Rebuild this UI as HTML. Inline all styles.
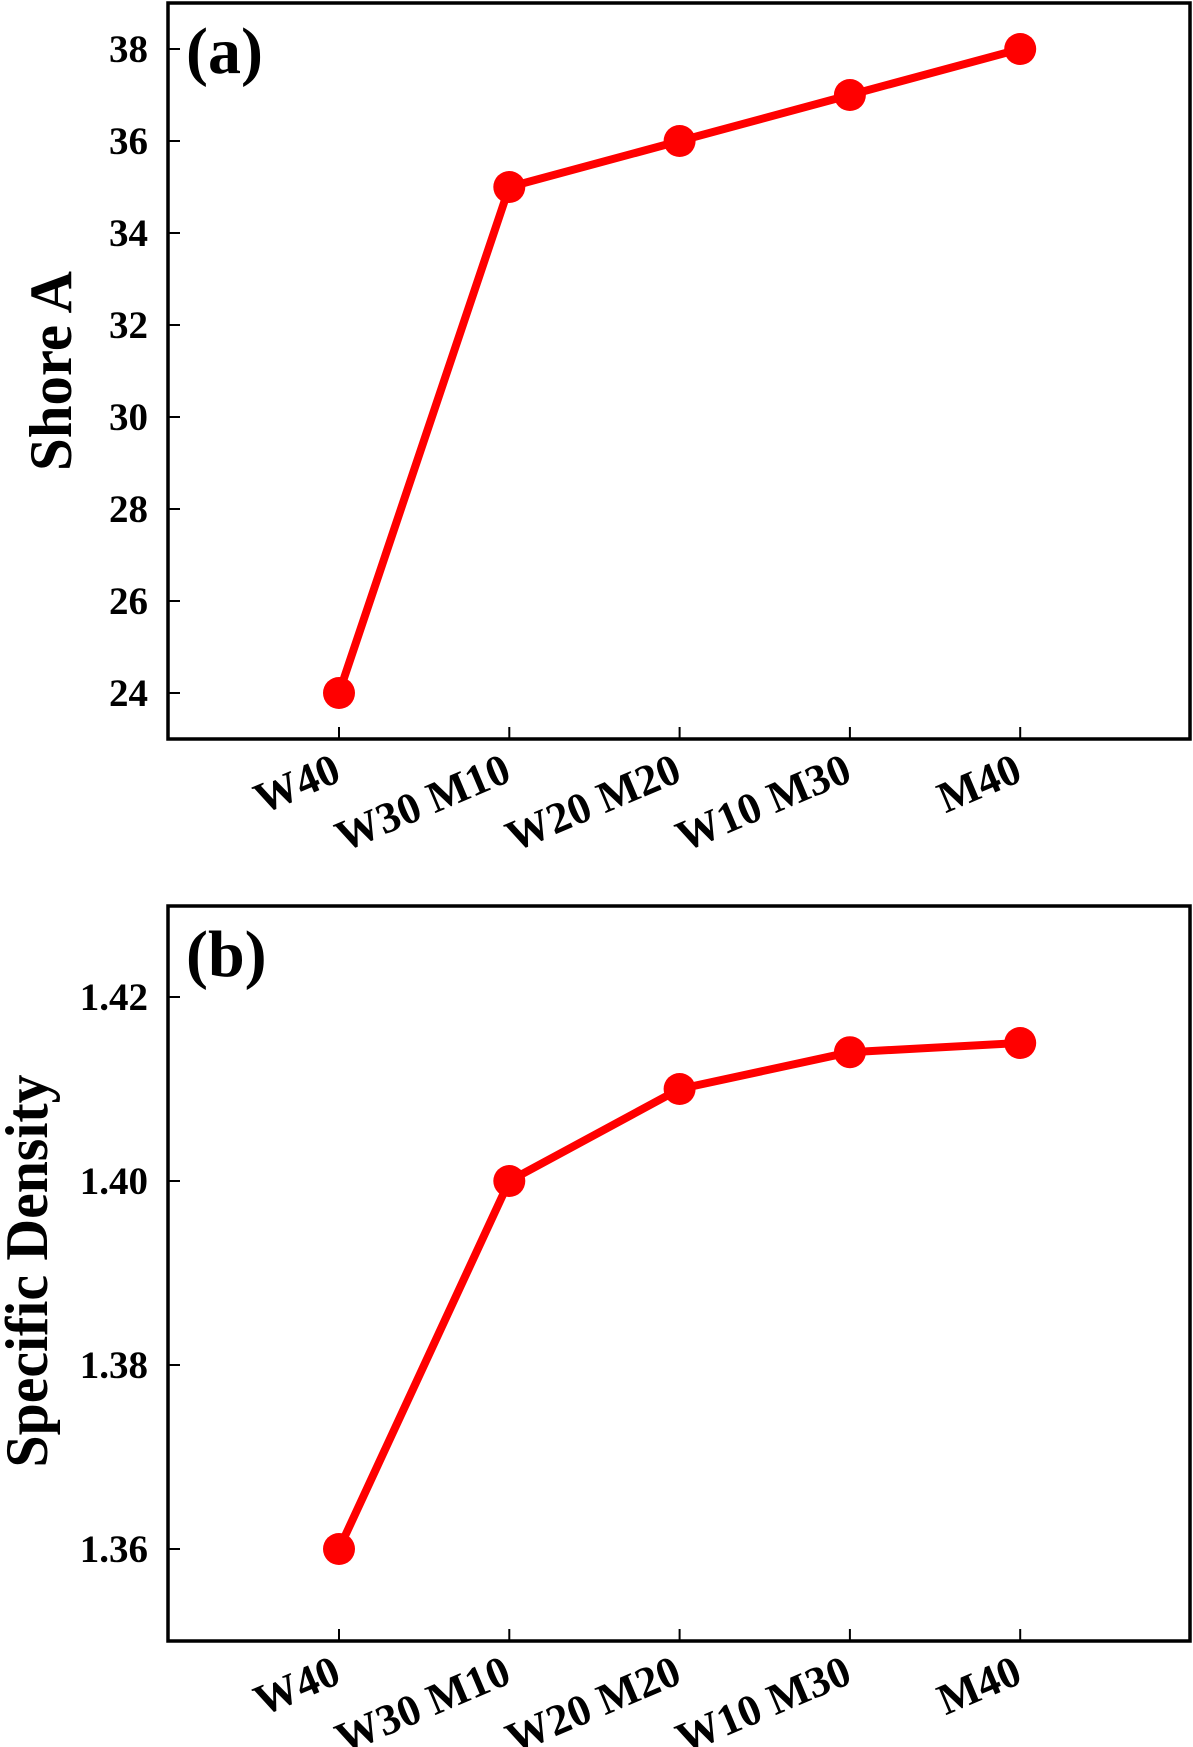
<!DOCTYPE html>
<html><head><meta charset="utf-8"><style>
html,body{margin:0;padding:0;background:#fff;}
svg{display:block;font-family:"Liberation Serif",serif;font-weight:bold;}
</style></head><body>
<svg id="chart" width="1193" height="1747" viewBox="0 0 1193 1747"></svg>
<script>
const categories = ["W40","W30 M10","W20 M20","W10 M30","M40"];
const shoreValues = [24,35,36,37,38];
const shoreTicks = [24,26,28,30,32,34,36,38];
const shoreTickLabels = ["24","26","28","30","32","34","36","38"];
const densityValues = [1.36,1.40,1.41,1.414,1.415];
const densityTicks = [1.36,1.38,1.40,1.42];
const densityTickLabels = ["1.36","1.38","1.40","1.42"];

const NS = "http://www.w3.org/2000/svg";
const svg = document.getElementById('chart');
function mk(tag, attrs, parent){
  const e = document.createElementNS(NS, tag);
  for (const k in attrs) e.setAttribute(k, attrs[k]);
  (parent||svg).appendChild(e);
  return e;
}
const L = 168, R = 1190;
function xScale(i){ return 339 + i*170.3; }

function panel(cfg){
  const g = mk('g', {});
  
  
  const y = v => cfg.y0 + (v - cfg.v0) * (cfg.y1 - cfg.y0) / (cfg.v1 - cfg.v0);
  const frame = mk('rect', {x:L, y:cfg.top, width:R-L, height:cfg.bottom-cfg.top, fill:'none', stroke:'#000', 'stroke-width':3.5}, g);
  
  
  cfg.ticks.forEach((t,i)=>{
    const ty = y(t);
    const tk = mk('line', {x1:L, x2:L+12, y1:ty, y2:ty, stroke:'#000', 'stroke-width':2}, g);
    
    
    const tx = mk('text', {x:148, y:ty+13, 'text-anchor':'end', 'font-size':39}, g);
    tx.textContent = cfg.tickLabels[i];
    
    
  });
  categories.forEach((c,i)=>{
    const xx = xScale(i);
    const tk = mk('line', {x1:xx, x2:xx, y1:cfg.bottom, y2:cfg.bottom-12, stroke:'#000', 'stroke-width':2}, g);
    
    
    const ax = xx+4, ay = cfg.bottom+41;
    const tx = mk('text', {x:ax, y:ay, 'text-anchor':'end', 'font-size':44, transform:`rotate(-23 ${ax} ${ay})`}, g);
    tx.textContent = c;
    
    
  });
  const pts = cfg.values.map((v,i)=>xScale(i)+','+y(v)).join(' ');
  const line = mk('polyline', {points:pts, fill:'none', stroke:'#ff0000', 'stroke-width':8, 'stroke-linejoin':'round'}, g);
  
  
  cfg.values.forEach((v,i)=>{
    const c = mk('circle', {cx:xScale(i), cy:y(v), r:16, fill:'#ff0000'}, g);
    
    
  });
  const lab = mk('text', {x:186, y:cfg.top+70, 'font-size':66}, g);
  lab.textContent = cfg.label;
  
  
  const ttl = mk('text', {x:0, y:0, 'text-anchor':'middle', 'font-size':60, textLength:cfg.titleLen, lengthAdjust:'spacingAndGlyphs', transform:`translate(${cfg.titleX} ${cfg.titleY}) rotate(-90)`}, g);
  ttl.textContent = cfg.title;
  
  
}
panel({name:'shore-a-chart', top:3, bottom:739, v0:24, y0:693, v1:38, y1:49,
  ticks:shoreTicks, tickLabels:shoreTickLabels, values:shoreValues, label:'(a)',
  title:'Shore A', titleLen:200, titleX:71, titleY:371});
panel({name:'specific-density-chart', top:906, bottom:1641, v0:1.36, y0:1549, v1:1.42, y1:997,
  ticks:densityTicks, tickLabels:densityTickLabels, values:densityValues, label:'(b)',
  title:'Specific Density', titleLen:393, titleX:47, titleY:1271});
</script>
</body></html>
